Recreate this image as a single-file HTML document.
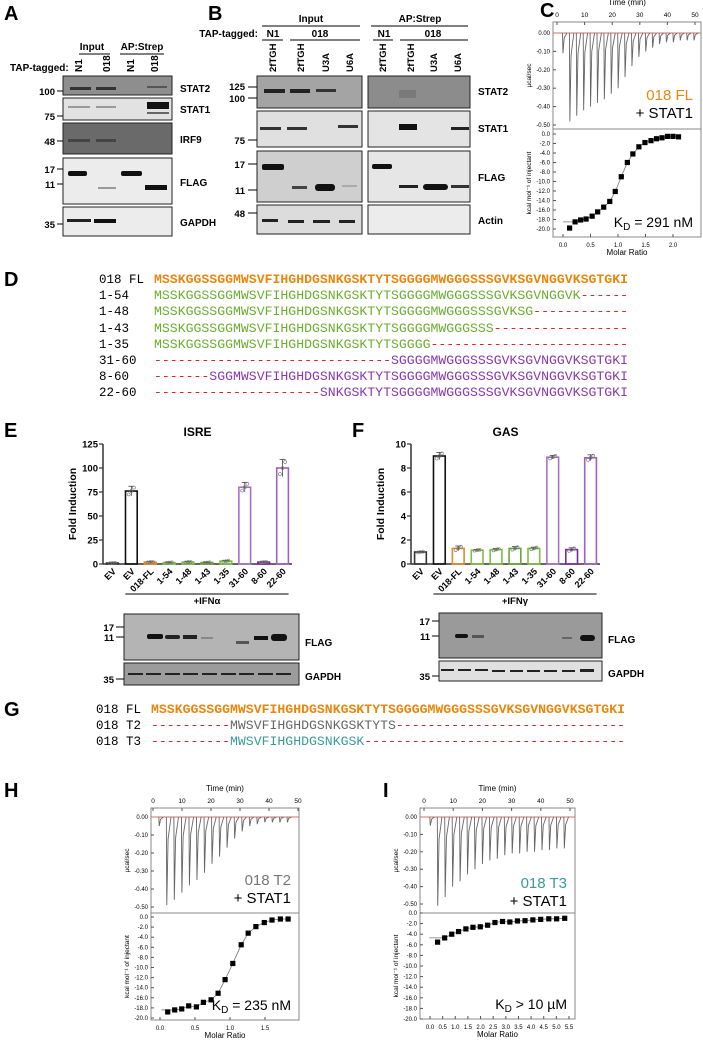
<!DOCTYPE html>
<html><head><meta charset="utf-8"><style>
html,body{margin:0;padding:0;background:#fff}
svg{display:block}
text{font-family:"Liberation Sans",Arial,sans-serif}
.b{font-weight:bold}
.pl{font-size:20px;font-weight:bold}
.bl{font-size:10px;font-weight:bold}
.mk{font-size:9.5px;font-weight:bold}
</style></head><body>
<svg id="fig" width="703" height="1042" viewBox="0 0 703 1042" xmlns="http://www.w3.org/2000/svg">
<!-- Panel A -->
<g>
<text x="4" y="20" class="pl">A</text>
<text x="92" y="50" class="bl" text-anchor="middle">Input</text>
<line x1="79" y1="54" x2="110" y2="54" stroke="#000"/>
<text x="142" y="50" class="bl" text-anchor="middle">AP:Strep</text>
<line x1="120" y1="54" x2="164" y2="54" stroke="#000"/>
<text x="10" y="71" class="bl">TAP-tagged:</text>
<g class="bl" font-size="9.5" font-weight="bold">
<text transform="translate(82,72) rotate(-90)" font-weight="bold">N1</text>
<text transform="translate(110,72) rotate(-90)" font-weight="bold">018</text>
<text transform="translate(134,72) rotate(-90)" font-weight="bold">N1</text>
<text transform="translate(158,72) rotate(-90)" font-weight="bold">018</text>
</g>
<g><rect x="63" y="76" width="109" height="19" fill="#8e8e8e" stroke="#222"/>
<rect x="70" y="87" width="21" height="3" fill="#333"/><rect x="96" y="87" width="20" height="3" fill="#333"/><rect x="147" y="86" width="20" height="2" fill="#555"/></g>
<g><rect x="63" y="98" width="109" height="22" fill="#e2e2e2" stroke="#222"/>
<rect x="68" y="106" width="22" height="2" fill="#999"/><rect x="96" y="106" width="20" height="2" fill="#999"/><rect x="147" y="102" width="22" height="7" fill="#111"/><rect x="147" y="112" width="22" height="2" fill="#666"/></g>
<g><rect x="63" y="123" width="109" height="31" fill="#6a6a6a" stroke="#222"/>
<rect x="68" y="139" width="22" height="3" fill="#444"/><rect x="96" y="139" width="20" height="3" fill="#444"/></g>
<g><rect x="63" y="158" width="109" height="46" fill="#ececec" stroke="#222"/>
<rect x="68" y="171" width="19" height="5" rx="2" fill="#111"/><rect x="98" y="187" width="18" height="2" fill="#999"/><rect x="121" y="171" width="21" height="5" rx="2" fill="#111"/><rect x="145" y="185" width="22" height="5" fill="#111"/></g>
<g><rect x="63" y="207" width="109" height="29" fill="#ececec" stroke="#222"/>
<rect x="67" y="219" width="24" height="3" fill="#222"/><rect x="94" y="219" width="22" height="4" fill="#111"/></g>
<text x="180" y="92" class="bl">STAT2</text><text x="180" y="113" class="bl">STAT1</text><text x="180" y="143" class="bl">IRF9</text><text x="180" y="186" class="bl">FLAG</text><text x="180" y="226" class="bl">GAPDH</text>
<g class="mk" text-anchor="end">
<text x="55" y="95" class="mk">100</text><text x="55" y="120" class="mk">75</text><text x="55" y="145" class="mk">48</text><text x="55" y="173" class="mk">17</text><text x="55" y="188" class="mk">11</text><text x="55" y="228" class="mk">35</text></g>
<g stroke="#000"><line x1="57" y1="91" x2="63" y2="91"/><line x1="57" y1="116" x2="63" y2="116"/><line x1="57" y1="141" x2="63" y2="141"/><line x1="57" y1="169" x2="63" y2="169"/><line x1="57" y1="184" x2="63" y2="184"/><line x1="57" y1="224" x2="63" y2="224"/></g>
</g>
<!-- Panel B -->
<g>
<text x="208" y="20" class="pl">B</text>
<text x="311" y="22" class="bl" text-anchor="middle">Input</text><line x1="262" y1="26" x2="360" y2="26" stroke="#000"/>
<text x="420" y="22" class="bl" text-anchor="middle">AP:Strep</text><line x1="371" y1="26" x2="468" y2="26" stroke="#000"/>
<text x="258" y="37" class="bl" text-anchor="end">TAP-tagged:</text>
<text x="273" y="37" class="bl" text-anchor="middle">N1</text><line x1="262" y1="40" x2="283" y2="40" stroke="#000"/>
<text x="320" y="37" class="bl" text-anchor="middle">018</text><line x1="290" y1="40" x2="360" y2="40" stroke="#000"/>
<text x="384" y="37" class="bl" text-anchor="middle">N1</text><line x1="373" y1="40" x2="393" y2="40" stroke="#000"/>
<text x="433" y="37" class="bl" text-anchor="middle">018</text><line x1="400" y1="40" x2="468" y2="40" stroke="#000"/>
<g font-size="9.5" font-weight="bold">
<text transform="translate(276,72) rotate(-90)">2fTGH</text><text transform="translate(304,72) rotate(-90)">2fTGH</text><text transform="translate(329,72) rotate(-90)">U3A</text><text transform="translate(353,72) rotate(-90)">U6A</text>
<text transform="translate(386,72) rotate(-90)">2fTGH</text><text transform="translate(414,72) rotate(-90)">2fTGH</text><text transform="translate(437,72) rotate(-90)">U3A</text><text transform="translate(461,72) rotate(-90)">U6A</text></g>
<g><rect x="257" y="76" width="105" height="32" fill="#a4a4a4" stroke="#222"/><rect x="368" y="76" width="102" height="32" fill="#8c8c8c" stroke="#222"/>
<rect x="264" y="89" width="21" height="4" fill="#222"/><rect x="290" y="89" width="20" height="4" fill="#222"/><rect x="316" y="89" width="20" height="3" fill="#333"/><rect x="399" y="90" width="17" height="8" fill="#7a7a7a"/></g>
<g><rect x="257" y="111" width="105" height="36" fill="#e0e0e0" stroke="#222"/><rect x="368" y="111" width="102" height="36" fill="#e4e4e4" stroke="#222"/>
<rect x="260" y="127" width="21" height="3" fill="#333"/><rect x="287" y="127" width="20" height="3" fill="#333"/><rect x="338" y="125" width="20" height="3" fill="#333"/><rect x="399" y="124" width="18" height="6" fill="#111"/><rect x="451" y="127" width="18" height="3" fill="#222"/></g>
<g><rect x="257" y="151" width="105" height="51" fill="#cfcfcf" stroke="#222"/><rect x="368" y="151" width="102" height="51" fill="#e6e6e6" stroke="#222"/>
<rect x="262" y="164" width="22" height="6" rx="2" fill="#111"/><rect x="292" y="186" width="15" height="3" fill="#444"/><rect x="315" y="184" width="20" height="7" rx="3" fill="#111"/><rect x="342" y="185" width="15" height="2" fill="#aaa"/>
<rect x="372" y="164" width="20" height="5" rx="2" fill="#111"/><rect x="399" y="185" width="19" height="3" fill="#222"/><rect x="423" y="184" width="25" height="6" rx="3" fill="#111"/><rect x="451" y="185" width="18" height="3" fill="#333"/></g>
<g><rect x="257" y="205" width="105" height="29" fill="#dcdcdc" stroke="#222"/><rect x="368" y="205" width="102" height="29" fill="#ececec" stroke="#222"/>
<rect x="262" y="219" width="16" height="3" fill="#222"/><rect x="288" y="220" width="16" height="3" fill="#222"/><rect x="313" y="220" width="17" height="3" fill="#222"/><rect x="339" y="220" width="16" height="3" fill="#222"/></g>
<text x="478" y="95" class="bl">STAT2</text><text x="478" y="132" class="bl">STAT1</text><text x="478" y="181" class="bl">FLAG</text><text x="478" y="224" class="bl">Actin</text>
<g text-anchor="end"><text x="245" y="90" class="mk">125</text><text x="245" y="102" class="mk">100</text><text x="245" y="144" class="mk">75</text><text x="245" y="168" class="mk">17</text><text x="245" y="194" class="mk">11</text><text x="245" y="217" class="mk">48</text></g>
<g stroke="#000"><line x1="248" y1="87" x2="257" y2="87"/><line x1="248" y1="98" x2="257" y2="98"/><line x1="248" y1="140" x2="257" y2="140"/><line x1="248" y1="164" x2="257" y2="164"/><line x1="248" y1="190" x2="257" y2="190"/><line x1="248" y1="213" x2="257" y2="213"/></g>
</g>
<text x="540" y="17" class="pl">C</text>
<text x="4" y="286" class="pl">D</text>
<text x="4" y="437" class="pl">E</text>
<text x="352" y="437" class="pl">F</text>
<text x="4" y="716" class="pl">G</text>
<text x="4" y="797" class="pl">H</text>
<text x="383" y="797" class="pl">I</text>
<!-- E/F blots -->
<g>
<rect x="124" y="614" width="175" height="46" fill="#b4b4b4" stroke="#222"/>
<rect x="124" y="663" width="175" height="22" fill="#9c9c9c" stroke="#222"/>
<rect x="147" y="634" width="16" height="5" rx="2" fill="#111"/><rect x="165" y="635" width="15" height="4" rx="2" fill="#222"/><rect x="183" y="635" width="14" height="4" fill="#222"/><rect x="201" y="637" width="12" height="2" fill="#888"/><rect x="236" y="641" width="13" height="3" fill="#555"/><rect x="254" y="636" width="14" height="4" fill="#111"/><rect x="271" y="634" width="16" height="7" rx="3" fill="#111"/>
<g fill="#222"><rect x="128" y="673" width="15" height="2"/><rect x="146" y="673" width="15" height="2"/><rect x="165" y="673" width="15" height="2"/><rect x="183" y="673" width="15" height="2"/><rect x="202" y="673" width="15" height="2"/><rect x="221" y="673" width="15" height="2"/><rect x="239" y="673" width="15" height="2"/><rect x="258" y="673" width="15" height="2"/><rect x="276" y="673" width="15" height="2"/></g>
<text x="305" y="646" class="bl">FLAG</text><text x="305" y="680" class="bl">GAPDH</text>
<text x="114" y="631" class="mk" text-anchor="end">17</text><text x="114" y="641" class="mk" text-anchor="end">11</text><text x="114" y="683" class="mk" text-anchor="end">35</text>
<g stroke="#000"><line x1="116" y1="627" x2="124" y2="627"/><line x1="116" y1="637" x2="124" y2="637"/><line x1="116" y1="679" x2="124" y2="679"/></g>
</g>
<g>
<rect x="439" y="613" width="163" height="45" fill="#9a9a9a" stroke="#222"/>
<rect x="439" y="661" width="163" height="20" fill="#e0e0e0" stroke="#222"/>
<rect x="455" y="634" width="13" height="4" rx="2" fill="#111"/><rect x="472" y="635" width="12" height="3" fill="#555"/><rect x="580" y="635" width="15" height="6" rx="3" fill="#111"/><rect x="562" y="637" width="10" height="2" fill="#666"/>
<g fill="#222"><rect x="441" y="669" width="13" height="2"/><rect x="458" y="669" width="13" height="2"/><rect x="475" y="669" width="13" height="2"/><rect x="492" y="670" width="13" height="2"/><rect x="510" y="670" width="13" height="2"/><rect x="527" y="670" width="13" height="2"/><rect x="544" y="670" width="13" height="2"/><rect x="562" y="670" width="13" height="2"/><rect x="580" y="669" width="14" height="3"/></g>
<text x="608" y="643" class="bl">FLAG</text><text x="608" y="677" class="bl">GAPDH</text>
<text x="430" y="625" class="mk" text-anchor="end">17</text><text x="430" y="640" class="mk" text-anchor="end">11</text><text x="430" y="680" class="mk" text-anchor="end">35</text>
<g stroke="#000"><line x1="432" y1="621" x2="439" y2="621"/><line x1="432" y1="636" x2="439" y2="636"/><line x1="432" y1="676" x2="439" y2="676"/></g>
</g>
<g id="seqD"></g>
<g id="seqG"></g>
<g id="chartE"></g>
<g id="chartF"></g>
<g id="itcC"></g>
<g id="itcH"></g>
<g id="itcI"></g>
</svg>
<script>
const NS="http://www.w3.org/2000/svg";
// ---- bar chart data ----
const barCategories=["EV","EV","018-FL","1-54","1-48","1-43","1-35","31-60","8-60","22-60"];
const barColors=["#333","#111","#e08a2a","#7cc043","#7cc043","#6aa83a","#7cc043","#a872c8","#7a2a9a","#a060c0"];
const isreValues=[1,76,2,1.5,2,1.5,3,80,2,100];
const isreErr=[0.3,5,0.5,0.4,0.5,0.4,0.6,5,0.5,9];
const isreTicks=[0,25,50,75,100,125];
const gasValues=[1,9,1.3,1.15,1.2,1.3,1.3,8.9,1.2,8.85];
const gasErr=[0.05,0.3,0.2,0.05,0.1,0.15,0.1,0.15,0.15,0.25];
const gasTicks=[0,2,4,6,8,10];
// ---- ITC data ----
const cSpikes=[-0.11,-0.48,-0.45,-0.42,-0.40,-0.38,-0.36,-0.33,-0.30,-0.24,-0.18,-0.13,-0.10,-0.08,-0.06,-0.05,-0.05,-0.04,-0.04,-0.04];
const cRatio=[0.12,0.22,0.32,0.42,0.53,0.63,0.74,0.85,0.95,1.06,1.17,1.27,1.38,1.49,1.6,1.7,1.8,1.9,2.0,2.1];
const cHeat=[-19.8,-18.5,-18.1,-17.9,-17.3,-16.4,-15.4,-14.2,-12.1,-9.0,-6.0,-4.2,-2.7,-1.8,-1.4,-1.0,-0.8,-0.5,-0.5,-0.6];
const hSpikes=[-0.05,-0.49,-0.46,-0.42,-0.38,-0.35,-0.31,-0.26,-0.22,-0.17,-0.12,-0.08,-0.05,-0.04,-0.03,-0.03,-0.03,-0.03];
const hRatio=[0.11,0.21,0.31,0.41,0.52,0.62,0.73,0.83,0.93,1.04,1.16,1.26,1.37,1.49,1.6,1.72,1.83];
const hHeat=[-18.8,-18.4,-18.2,-17.6,-17.8,-16.9,-16.4,-15.1,-12.4,-9.2,-5.5,-3.2,-1.9,-1.1,-0.6,-0.4,-0.4];
const iSpikes=[-0.05,-0.51,-0.46,-0.40,-0.37,-0.33,-0.30,-0.27,-0.25,-0.24,-0.22,-0.21,-0.21,-0.20,-0.20,-0.19,-0.19,-0.18,-0.18];
const iRatio=[0.30,0.58,0.86,1.13,1.42,1.7,1.99,2.28,2.57,2.87,3.16,3.46,3.76,4.07,4.38,4.7,5.01,5.33];
const iHeat=[-5.5,-4.7,-4.0,-3.5,-3.0,-2.7,-2.6,-2.3,-1.8,-1.6,-1.7,-1.5,-1.45,-1.3,-1.2,-1.1,-1.1,-1.0];
// ---- sequences ----
const FL="MSSKGGSSGGMWSVFIHGHDGSNKGSKTYTSGGGGMWGGGSSSGVKSGVNGGVKSGTGKI";

function el(tag,attrs,parent,txt){const e=document.createElementNS(NS,tag);for(const k in attrs)e.setAttribute(k,attrs[k]);if(txt!==undefined)e.textContent=txt;parent.appendChild(e);return e;}
const OR="#e8870e",GR="#6aad2f",PU="#8b35b0",RD="#e02020";
const MONO="font-family:'Liberation Mono',monospace;font-size:12.5px";
function dashes(n){return "-".repeat(n);}
function seqRows(g,x0,labelX,rows,cw){
  rows.forEach(r=>{
    const lab=el("text",{x:labelX,y:r.y,style:MONO},g,r.label);
    
    
    let idx=0;
    r.segs.forEach(s=>{
      const t=el("text",{x:x0+idx*cw,y:r.y,style:MONO+";font-weight:"+(s[2]?"bold":"normal"),fill:s[1],textLength:s[0].length*cw,lengthAdjust:"spacingAndGlyphs"},g,s[0]);
      
      
      idx+=s[0].length;
    });
  });
}
const cw=7.9;
seqRows(document.getElementById("seqD"),154,99,[
 {label:"018 FL",y:283,segs:[[FL,OR,1]]},
 {label:"1-54",y:299,segs:[[FL.slice(0,54),GR],[dashes(6),RD]]},
 {label:"1-48",y:315,segs:[[FL.slice(0,48),GR],[dashes(12),RD]]},
 {label:"1-43",y:332,segs:[[FL.slice(0,43),GR],[dashes(17),RD]]},
 {label:"1-35",y:348,segs:[[FL.slice(0,35),GR],[dashes(25),RD]]},
 {label:"31-60",y:364,segs:[[dashes(30),RD],[FL.slice(30),PU]]},
 {label:"8-60",y:380,segs:[[dashes(7),RD],[FL.slice(7),PU]]},
 {label:"22-60",y:396,segs:[[dashes(21),RD],[FL.slice(21),PU]]}
],cw);
seqRows(document.getElementById("seqG"),151,96,[
 {label:"018 FL",y:713,segs:[[FL,OR,1]]},
 {label:"018 T2",y:729,segs:[[dashes(10),RD],[FL.slice(10,31),"#666"],[dashes(29),RD]]},
 {label:"018 T3",y:745,segs:[[dashes(10),RD],[FL.slice(10,27),"#3a9a9a"],[dashes(33),RD]]}
],cw);

function barChart(g,o){
  const yS=v=>o.y0-(v/o.max)*(o.y0-o.yTop);
  const step=(o.x1-o.x0)/barCategories.length;
  const xS=i=>o.x0+step*(i+0.5);
  const title=el("text",{x:(o.x0+o.x1)/2,y:436,"text-anchor":"middle","font-size":"12","font-weight":"bold"},g,o.title);
  
  
  const yt=el("text",{transform:`translate(${o.x0-27},${(o.y0+o.yTop)/2}) rotate(-90)`,"text-anchor":"middle","font-size":"10.5","font-weight":"bold"},g,"Fold Induction");
  
  
  const ya=el("line",{x1:o.x0,y1:o.yTop,x2:o.x0,y2:o.y0,stroke:"#333","stroke-width":1.5},g);
  
  
  const xa=el("line",{x1:o.x0,y1:o.y0,x2:o.x1,y2:o.y0,stroke:"#333","stroke-width":1.5},g);
  
  
  o.ticks.forEach(t=>{
    el("line",{x1:o.x0-4,y1:yS(t),x2:o.x0,y2:yS(t),stroke:"#333","stroke-width":1.2},g);
    const tl=el("text",{x:o.x0-5,y:yS(t)+3.5,"text-anchor":"end","font-size":"9.5","font-weight":"bold"},g,t);
    
    
  });
  o.values.forEach((v,i)=>{
    const bw=step*0.62,x=xS(i);
    const b=el("rect",{x:x-bw/2,y:yS(v),width:bw,height:o.y0-yS(v),fill:"none",stroke:barColors[i],"stroke-width":1.6},g);
    
    
    const e=o.err[i];
    el("line",{x1:x,y1:yS(v+e),x2:x,y2:yS(v-e),stroke:"#444","stroke-width":0.8},g);
    el("line",{x1:x-3,y1:yS(v+e),x2:x+3,y2:yS(v+e),stroke:"#444","stroke-width":0.8},g);
    [-2,0,2].forEach((d,k)=>el("circle",{cx:x+d*1.3,cy:yS(v+(k-1)*e*0.7),r:1.5,fill:"none",stroke:"#777","stroke-width":0.6},g));
    const lb=el("text",{transform:`translate(${x+4},${o.y0+8}) rotate(-45)`,"text-anchor":"end","font-size":"9","font-weight":"bold"},g,barCategories[i]);
    
    
  });
  el("line",{x1:xS(1)-6,y1:594,x2:xS(9)+6,y2:594,stroke:"#000","stroke-width":1},g);
  const ifn=el("text",{x:(xS(1)+xS(9))/2,y:604,"text-anchor":"middle","font-size":"9.5","font-weight":"bold"},g,o.ifn);
  
  
}
barChart(document.getElementById("chartE"),{x0:103,x1:292,y0:564,yTop:444,max:125,values:isreValues,err:isreErr,ticks:isreTicks,title:"ISRE",ifn:"+IFNα"});
barChart(document.getElementById("chartF"),{x0:411,x1:600,y0:564,yTop:444,max:10,values:gasValues,err:gasErr,ticks:gasTicks,title:"GAS",ifn:"+IFNγ"});

function itc(g,o){
  const tx=t=>o.t0+(t/50)*(o.t50-o.t0);
  const ty=v=>o.z0+(v/-0.5)*(o.z50-o.z0);
  const mx=m=>o.m0+(m/o.mRef)*(o.mRefX-o.m0);
  const hy=v=>o.h0+(v/-20)*(o.h20-o.h0);
  const fs=o.fs;
  el("rect",{x:o.x0,y:o.top,width:o.x1-o.x0,height:o.mid-o.top,fill:"none",stroke:"#888","stroke-width":1},g);
  el("rect",{x:o.x0,y:o.mid,width:o.x1-o.x0,height:o.bot-o.mid,fill:"none",stroke:"#888","stroke-width":1},g);
  const tt=el("text",{x:(o.x0+o.x1)/2,y:o.top-17,"text-anchor":"middle","font-size":fs+1.5},g,"Time (min)");
  
  
  [0,10,20,30,40,50].forEach(t=>{el("text",{x:tx(t),y:o.top-5,"text-anchor":"middle","font-size":fs},g,t);el("line",{x1:tx(t),y1:o.top,x2:tx(t),y2:o.top+3,stroke:"#555"},g);});
  [0,-0.1,-0.2,-0.3,-0.4,-0.5].forEach(v=>{el("text",{x:o.x0-3,y:ty(v)+2,"text-anchor":"end","font-size":fs-0.5},g,v.toFixed(2));el("line",{x1:o.x0,y1:ty(v),x2:o.x0+3,y2:ty(v),stroke:"#555"},g);});
  for(let v=0;v>=-20;v-=2){el("text",{x:o.x0-3,y:hy(v)+2,"text-anchor":"end","font-size":fs-0.5},g,v.toFixed(1));el("line",{x1:o.x0,y1:hy(v),x2:o.x0+3,y2:hy(v),stroke:"#555"},g);}
  o.mTicks.forEach(m=>{el("text",{x:mx(m),y:o.bot+10,"text-anchor":"middle","font-size":fs-0.5},g,m.toFixed(1));el("line",{x1:mx(m),y1:o.bot-3,x2:mx(m),y2:o.bot,stroke:"#555"},g);});
  const mt=el("text",{x:(o.x0+o.x1)/2,y:o.bot+18,"text-anchor":"middle","font-size":fs+1.5},g,"Molar Ratio");
  
  
  const y1=el("text",{transform:`translate(${o.x0-22},${(o.top+o.mid)/2}) rotate(-90)`,"text-anchor":"middle","font-size":fs},g,"µcal/sec");
  
  
  const y2=el("text",{transform:`translate(${o.x0-22},${(o.mid+o.bot)/2}) rotate(-90)`,"text-anchor":"middle","font-size":fs},g,"kcal mol⁻¹ of injectant");
  
  
  el("line",{x1:o.x0,y1:ty(0),x2:o.x1,y2:ty(0),stroke:"#d07070","stroke-width":1},g);
  let d="";
  o.spikes.forEach((v,i)=>{const t=o.tStart+i*o.tStep;d+=`M${tx(t)},${ty(0)}L${tx(t+0.15)},${ty(v)}L${tx(t+0.6)},${ty(v*0.25)}L${tx(t+1.6)},${ty(0)}`;});
  const sp=el("path",{d:d,fill:"none",stroke:"#666","stroke-width":0.9},g);
  
  
  const pts=o.ratio.map((m,i)=>`${mx(m)},${hy(o.heat[i])}`).join(" ");
  const fit=el("polyline",{points:`${mx(o.ratio[0]-0.06*o.mRef)},${hy(o.heat[1])} `+pts.split(" ").slice(1).join(" "),fill:"none",stroke:"#777","stroke-width":0.8},g);
  
  
  o.ratio.forEach((m,i)=>{
    const p=el("rect",{x:mx(m)-2.6,y:hy(o.heat[i])-2.6,width:5.2,height:5.2,fill:"#000"},g);
    
    
  });
  const n=el("text",{x:o.x1-8,y:o.labY,"text-anchor":"end","font-size":o.lfs,fill:o.col},g,o.name);
  
  
  const s=el("text",{x:o.x1-8,y:o.labY+o.lfs+3,"text-anchor":"end","font-size":o.lfs},g,"+ STAT1");
  
  
  const k=el("text",{x:o.x1-8,y:o.bot-10,"text-anchor":"end","font-size":o.lfs-1},g);
  
  
  el("tspan",{},k,"K");el("tspan",{dy:3,"font-size":o.lfs-5},k,"D");el("tspan",{dy:-3},k," "+o.kd);
}
itc(document.getElementById("itcC"),{x0:553,x1:701,top:22,mid:129,bot:237,t0:557,t50:695,z0:33,z50:125,h0:134,h20:229,m0:563,mRef:2,mRefX:673,mTicks:[0,0.5,1,1.5,2],spikes:cSpikes,ratio:cRatio,heat:cHeat,tStart:2,tStep:2.5,name:"018 FL",col:"#e8870e",labY:100,lfs:15,kd:"= 291 nM",fs:6.5});
itc(document.getElementById("itcH"),{x0:151,x1:299,top:808,mid:913,bot:1020,t0:153,t50:298,z0:817,z50:907,h0:917,h20:1018,m0:160,mRef:1.5,mRefX:265,mTicks:[0,0.5,1,1.5],spikes:hSpikes,ratio:hRatio,heat:hHeat,tStart:2,tStep:2.6,name:"018 T2",col:"#777",labY:885,lfs:15,kd:"= 235 nM",fs:6.5});
itc(document.getElementById("itcI"),{x0:420,x1:575,top:808,mid:913,bot:1019,t0:424,t50:570,z0:817,z50:904,h0:913,h20:1019,m0:430,mRef:5.5,mRefX:569,mTicks:[0,0.5,1,1.5,2,2.5,3,3.5,4,4.5,5,5.5],spikes:iSpikes,ratio:iRatio,heat:iHeat,tStart:2,tStep:2.55,name:"018 T3",col:"#3a9a9a",labY:888,lfs:15,kd:"> 10 µM",fs:6.5});
</script>
</body></html>
